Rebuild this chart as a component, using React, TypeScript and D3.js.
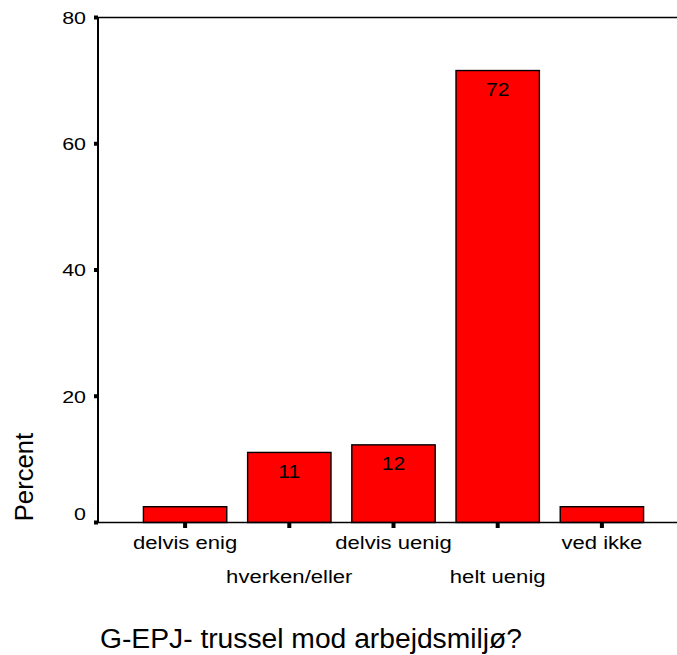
import React, { useEffect } from 'react';
import * as d3 from 'd3';

const categories = ['delvis enig', 'hverken/eller', 'delvis uenig', 'helt uenig', 'ved ikke'];
const percents = [2.5, 11.1, 12.3, 71.6, 2.5];
const barLabels = ['', '11', '12', '72', ''];
const yTicks = [0, 20, 40, 60, 80];
const yTitle = 'Percent';
const xTitle = 'G-EPJ- trussel mod arbejdsmiljø?';

const FONT = '"Liberation Sans", Arial, Helvetica, sans-serif';

export default function App() {
  useEffect(() => {
    document.body.style.margin = '0';
  }, []);
  const W = 677;
  const H = 655;
  const axisX = 98;
  const x = d3
    .scaleBand<string>()
    .domain(categories)
    .range([133, 654])
    .paddingInner(0.2)
    .paddingOuter(0.1);
  const y = d3.scaleLinear().domain([0, 80]).range([522.5, 17.5]);
  const sx = 1.24;

  return (
    <svg width={W} height={H} style={{ display: 'block', background: '#fff' }} fontFamily={FONT}>
      {/* frame lines */}
      <line x1={axisX} x2={W} y1={y(80)} y2={y(80)} stroke="#000" strokeWidth={1.6} />
      {/* bars */}
      {categories.map((c, i) => (
        <rect
          key={c}
          x={x(c)}
          y={y(percents[i])}
          width={x.bandwidth()}
          height={y(0) - y(percents[i])}
          fill="#ff0000"
          stroke="#000"
          strokeWidth={1.4}
        />
      ))}
      <line x1={axisX} x2={W} y1={y(0)} y2={y(0)} stroke="#000" strokeWidth={1.6} />
      <line x1={axisX} x2={axisX} y1={y(80)} y2={y(0)} stroke="#000" strokeWidth={2} />
      {/* y ticks */}
      {yTicks.map((t, i) => (
        <g key={t}>
          <rect x={axisX - 4} y={y(t) - 2} width={4} height={4} fill="#000" />
          <text
            transform={`translate(86,${i === 0 ? y(t) - 2.5 : y(t) + 6.3}) scale(${sx},1)`}
            textAnchor="end"
            fontSize={17.3}
            fill="#000"
          >
            {t}
          </text>
        </g>
      ))}
      {/* x ticks and labels */}
      {categories.map((c, i) => {
        const cx = (x(c) as number) + x.bandwidth() / 2;
        return (
          <g key={c}>
            <rect x={cx - 2} y={y(0) + 0.5} width={4} height={5} fill="#000" />
            <text
              transform={`translate(${cx},${i % 2 === 0 ? 549 : 583}) scale(${sx},1)`}
              textAnchor="middle"
              fontSize={17.8}
              fill="#000"
            >
              {c}
            </text>
          </g>
        );
      })}
      {/* bar value labels */}
      {categories.map((c, i) =>
        barLabels[i] ? (
          <text
            key={c}
            transform={`translate(${(x(c) as number) + x.bandwidth() / 2},${y(percents[i]) + 25.5}) scale(1.14,1)`}
            textAnchor="middle"
            fontSize={18.5}
            fill="#000"
          >
            {barLabels[i]}
          </text>
        ) : null
      )}
      {/* axis titles */}
      <text transform="translate(33,477) rotate(-90)" textAnchor="middle" fontSize={25.7} fill="#000">
        {yTitle}
      </text>
      <text
        x={100}
        y={647.5}
        fontSize={27}
        fill="#000"
        textLength={422}
        lengthAdjust="spacingAndGlyphs"
      >
        {xTitle}
      </text>
    </svg>
  );
}
